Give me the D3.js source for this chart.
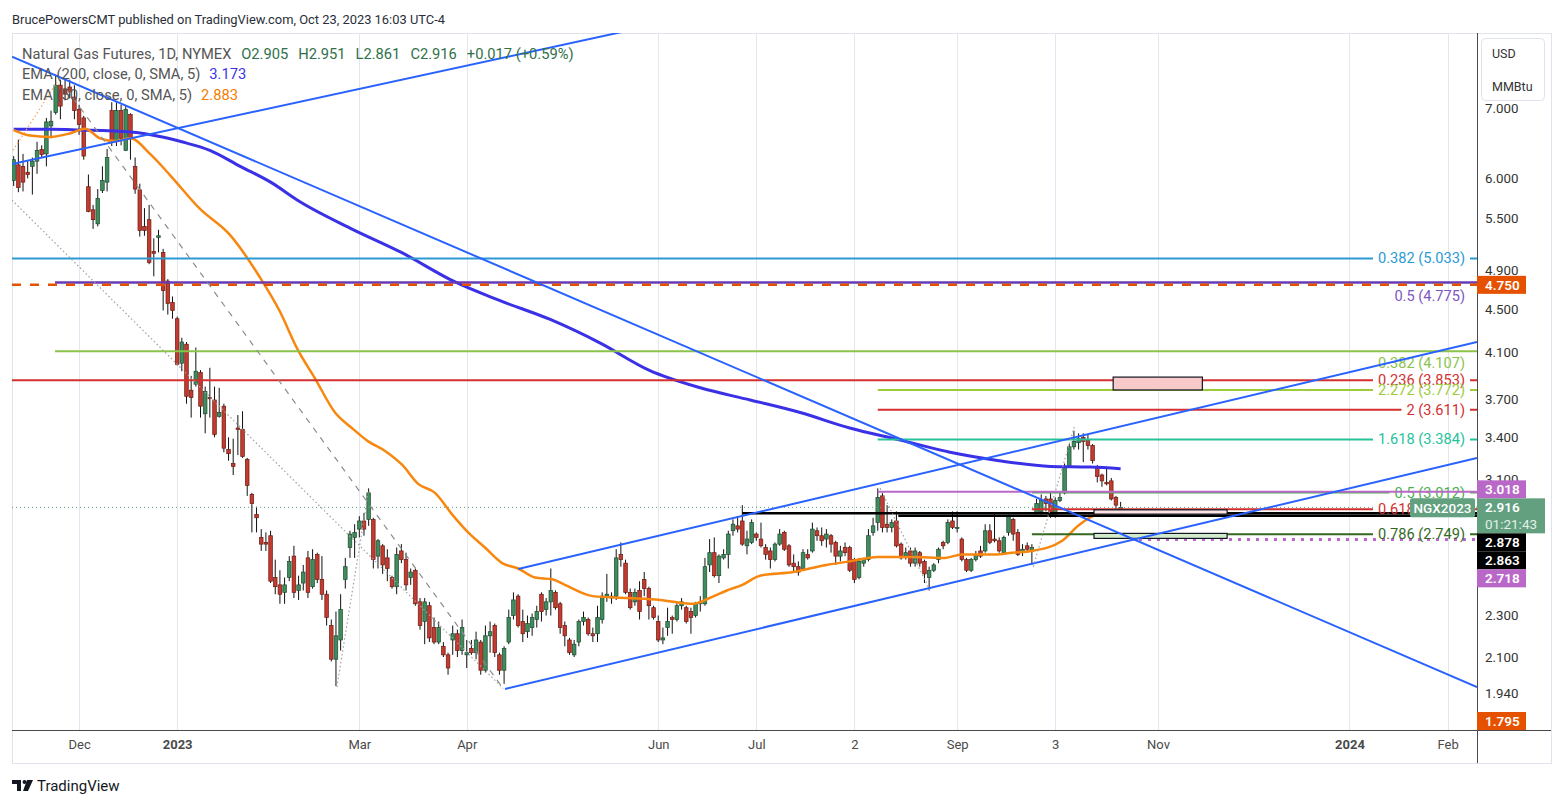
<!DOCTYPE html>
<html>
<head>
<meta charset="utf-8">
<script src="https://cdn.jsdelivr.net/npm/d3@7/dist/d3.min.js"></script>
<style>
html,body{margin:0;padding:0;background:#fff;}
svg{display:block;}
text{font-family:Roboto,"Liberation Sans",Arial,sans-serif;}
</style>
</head>
<body>
<svg id="chart" width="1564" height="807"></svg>
<script>
// ================= DATA =================
// daily bars, index 1 .. 238 (Nov 2022 -> Oct 23 2023)
const firstBar = 1;
const opens = [
5.97,6.18,6.16,6.08,6.16,6.23,6.39,6.33,6.73,6.93,
7.36,7.30,7.33,7.17,6.98,6.85,5.89,5.60,5.43,5.84,
5.95,6.96,6.52,6.96,6.38,6.90,6.16,5.85,5.40,5.48,
5.11,5.27,5.10,4.79,4.57,4.41,4.00,4.17,3.77,3.82,
3.92,3.58,3.71,3.69,3.56,3.64,3.31,3.21,3.47,3.46,
3.24,3.00,2.87,2.73,2.70,2.74,2.50,2.46,2.42,2.50,
2.62,2.43,2.47,2.61,2.45,2.63,2.49,2.41,2.25,2.09,
2.18,2.49,2.67,2.73,2.78,2.83,2.84,2.84,2.62,2.68,
2.61,2.50,2.45,2.65,2.60,2.50,2.54,2.37,2.27,2.35,
2.24,2.17,2.15,2.11,2.18,2.21,2.13,2.11,2.14,2.12,
2.17,2.04,2.20,2.25,2.11,2.04,2.17,2.30,2.40,2.27,
2.22,2.24,2.28,2.41,2.33,2.37,2.42,2.36,2.25,2.18,
2.11,2.17,2.27,2.28,2.21,2.21,2.28,2.40,2.39,2.40,
2.63,2.58,2.42,2.37,2.43,2.49,2.44,2.34,2.27,2.18,
2.24,2.29,2.28,2.35,2.34,2.32,2.30,2.36,2.36,2.57,
2.64,2.51,2.61,2.63,2.77,2.80,2.83,2.68,2.70,2.75,
2.72,2.67,2.65,2.60,2.69,2.76,2.68,2.58,2.56,2.55,
2.63,2.65,2.77,2.74,2.72,2.74,2.70,2.62,2.67,2.67,
2.60,2.50,2.58,2.60,2.76,2.82,2.99,2.81,2.79,2.83,
2.69,2.62,2.65,2.58,2.64,2.59,2.50,2.54,2.60,2.70,
2.70,2.83,2.79,2.72,2.60,2.54,2.60,2.65,2.65,2.77,
2.72,2.71,2.64,2.76,2.84,2.76,2.64,2.68,2.65,2.88,
2.89,2.97,2.97,2.86,2.96,3.01,3.19,3.33,3.36,3.40,
3.38,3.34,3.19,3.13,3.08,3.09,2.98,2.905];
const highs = [
6.30,6.53,6.33,6.23,6.28,6.50,6.45,6.85,6.96,7.53,
7.45,7.45,7.45,7.36,7.05,6.88,6.05,5.66,5.86,6.16,
6.40,7.09,7.09,7.05,7.03,6.92,6.28,5.93,5.62,5.66,
5.26,5.36,5.14,4.81,4.63,4.43,4.23,4.19,3.89,4.14,
3.94,3.80,3.96,3.80,3.79,3.66,3.40,3.39,3.57,3.60,
3.25,3.01,2.92,2.78,2.76,2.77,2.60,2.54,2.50,2.62,
2.68,2.51,2.57,2.65,2.66,2.64,2.62,2.43,2.28,2.32,
2.41,2.61,2.77,2.81,2.86,2.88,3.04,2.85,2.72,2.69,
2.66,2.51,2.67,2.69,2.64,2.55,2.55,2.39,2.39,2.37,
2.29,2.27,2.17,2.12,2.25,2.23,2.28,2.18,2.18,2.22,
2.18,2.25,2.27,2.26,2.12,2.15,2.33,2.42,2.41,2.33,
2.30,2.31,2.35,2.42,2.39,2.55,2.43,2.37,2.27,2.19,
2.18,2.28,2.32,2.29,2.24,2.35,2.42,2.52,2.42,2.66,
2.70,2.60,2.44,2.44,2.48,2.53,2.45,2.35,2.30,2.24,
2.34,2.30,2.37,2.39,2.35,2.34,2.37,2.40,2.61,2.72,
2.73,2.63,2.66,2.77,2.84,2.86,2.93,2.77,2.84,2.76,
2.82,2.69,2.67,2.70,2.78,2.77,2.69,2.63,2.59,2.66,
2.66,2.82,2.79,2.79,2.78,2.75,2.71,2.68,2.70,2.68,
2.61,2.61,2.61,2.78,2.85,3.04,3.01,2.93,2.84,2.89,
2.70,2.67,2.67,2.67,2.65,2.60,2.56,2.58,2.67,2.71,
2.84,2.89,2.89,2.73,2.61,2.61,2.65,2.68,2.81,2.81,
2.88,2.73,2.74,2.87,2.85,2.78,2.69,2.70,2.69,2.97,
3.00,2.99,3.01,2.98,3.01,3.21,3.35,3.45,3.43,3.43,
3.42,3.35,3.20,3.14,3.18,3.11,2.99,2.951];
const lows = [
5.90,5.82,5.83,6.00,5.79,6.06,6.28,6.16,6.55,6.90,
6.83,7.12,7.15,6.83,6.60,6.25,5.57,5.37,5.40,5.81,
5.83,6.44,6.44,6.45,6.37,6.25,5.80,5.28,5.29,4.97,
4.84,5.10,4.49,4.45,4.41,3.98,3.93,3.66,3.55,3.80,
3.55,3.43,3.55,3.40,3.55,3.29,3.23,3.13,3.27,3.25,
2.99,2.76,2.76,2.65,2.65,2.47,2.41,2.36,2.36,2.48,
2.39,2.38,2.43,2.39,2.44,2.47,2.38,2.25,2.08,1.97,
2.13,2.44,2.61,2.61,2.73,2.74,2.80,2.55,2.55,2.52,
2.48,2.44,2.41,2.58,2.43,2.46,2.35,2.23,2.16,2.17,
2.16,2.16,2.10,2.02,2.11,2.10,2.11,2.05,2.11,2.09,
2.02,2.03,2.12,2.10,2.02,1.98,2.16,2.28,2.24,2.17,
2.19,2.20,2.24,2.27,2.30,2.30,2.33,2.21,2.15,2.11,
2.10,2.15,2.25,2.20,2.17,2.17,2.26,2.37,2.36,2.38,
2.56,2.41,2.33,2.35,2.28,2.40,2.28,2.28,2.17,2.16,
2.20,2.21,2.27,2.33,2.26,2.21,2.29,2.32,2.35,2.53,
2.50,2.47,2.60,2.55,2.74,2.76,2.68,2.63,2.69,2.71,
2.67,2.60,2.55,2.59,2.68,2.65,2.56,2.53,2.51,2.55,
2.60,2.64,2.71,2.68,2.67,2.64,2.57,2.59,2.62,2.53,
2.47,2.49,2.56,2.59,2.74,2.77,2.76,2.76,2.76,2.67,
2.60,2.60,2.56,2.56,2.56,2.47,2.43,2.53,2.58,2.66,
2.69,2.78,2.76,2.59,2.53,2.53,2.59,2.61,2.64,2.69,
2.70,2.64,2.63,2.74,2.71,2.62,2.62,2.64,2.57,2.87,
2.87,2.89,2.85,2.85,2.95,3.00,3.18,3.31,3.31,3.22,
3.31,3.21,3.08,3.05,3.06,2.96,2.89,2.861];
const closes = [
6.25,5.88,5.95,6.05,6.23,6.38,6.32,6.79,6.80,7.36,
7.03,7.22,7.25,6.96,6.75,6.30,5.58,5.48,5.74,5.97,
6.28,6.50,6.96,6.55,6.98,6.55,5.86,5.35,5.35,4.99,
5.09,5.29,4.69,4.56,4.49,3.99,4.19,3.72,3.71,3.93,
3.64,3.76,3.70,3.42,3.59,3.32,3.28,3.19,3.46,3.26,
3.06,2.94,2.85,2.69,2.69,2.48,2.45,2.41,2.46,2.59,
2.42,2.46,2.53,2.42,2.60,2.49,2.41,2.29,2.09,2.20,
2.33,2.56,2.75,2.76,2.83,2.78,3.01,2.60,2.71,2.57,
2.55,2.45,2.63,2.60,2.46,2.53,2.36,2.25,2.37,2.19,
2.17,2.24,2.11,2.05,2.21,2.13,2.24,2.12,2.12,2.18,
2.04,2.20,2.22,2.12,2.04,2.14,2.29,2.38,2.25,2.21,
2.26,2.29,2.32,2.32,2.37,2.43,2.34,2.24,2.20,2.12,
2.16,2.27,2.29,2.21,2.20,2.29,2.40,2.41,2.40,2.61,
2.60,2.42,2.34,2.42,2.32,2.44,2.35,2.29,2.18,2.19,
2.27,2.28,2.35,2.37,2.27,2.29,2.36,2.37,2.56,2.64,
2.51,2.62,2.63,2.75,2.81,2.78,2.69,2.72,2.82,2.73,
2.68,2.63,2.60,2.69,2.75,2.66,2.57,2.56,2.53,2.64,
2.61,2.78,2.74,2.71,2.75,2.69,2.62,2.65,2.64,2.54,
2.49,2.59,2.60,2.74,2.80,2.98,2.79,2.79,2.82,2.68,
2.61,2.64,2.58,2.65,2.58,2.52,2.54,2.57,2.66,2.68,
2.82,2.79,2.79,2.60,2.54,2.60,2.63,2.62,2.77,2.70,
2.71,2.65,2.73,2.86,2.75,2.63,2.66,2.66,2.67,2.94,
2.96,2.94,2.86,2.96,2.98,3.19,3.33,3.37,3.39,3.37,
3.34,3.23,3.12,3.09,3.07,2.97,2.93,2.916];

// EMA: [bar, value]
const ema200 = [[1,6.68],[9,6.68],[15,6.67],[26,6.64],[32,6.58],[37,6.50],[43,6.38],[49.5,6.16],[56,5.95],[62.3,5.70],[73,5.38],[84,5.10],[95.5,4.78],[105,4.59],[116,4.40],[126.6,4.18],[137,3.94],[148,3.79],[158.7,3.69],[169.4,3.59],[180,3.47],[190.8,3.38],[201.5,3.29],[212,3.23],[223,3.19],[231.5,3.185],[238,3.173]];
const ema50 = [[1,6.67],[4.5,6.59],[8.8,6.57],[13,6.62],[16.3,6.69],[19.5,6.55],[22.7,6.51],[26,6.55],[30.2,6.33],[34.5,6.04],[40.9,5.61],[47.3,5.30],[53.7,4.83],[58,4.48],[61.7,4.13],[65.5,3.87],[69.8,3.59],[73.4,3.47],[76.9,3.37],[80.5,3.30],[84.2,3.20],[87.6,3.07],[91.2,3.01],[94.9,2.87],[98.3,2.76],[101.9,2.67],[105.6,2.58],[109,2.55],[112.6,2.50],[116.3,2.49],[119,2.46],[125,2.40],[132.3,2.39],[139.4,2.38],[146.5,2.36],[150,2.39],[153.7,2.43],[157,2.46],[160.8,2.51],[167.9,2.53],[175,2.57],[180,2.59],[186,2.615],[193.4,2.615],[200.4,2.61],[204,2.63],[211,2.63],[214.8,2.64],[219,2.65],[225.5,2.71],[228.9,2.80],[232,2.86],[234.7,2.88],[238,2.883]];

// x axis ticks (bar index) and labels
const tickBars = [15,36,75,98,139,160,181,203,224,246,287,308];
const tickLabels = ["Dec","2023","Mar","Apr","Jun","Jul","2","Sep","3","Nov","2024","Feb"];
const boldTicks = ["2023","2024"];
// price axis ticks
const priceTicks = [7,6,5.5,4.9,4.5,4.1,3.7,3.4,3.1,2.3,2.1,1.94];

// Fibonacci levels
const levelNames  = ["0.382","0.5","0.382","0.236","2.272","2","1.618","0.5","0.618","0.786"];
const levelPrices = [5.033,4.775,4.107,3.853,3.772,3.611,3.384,3.012,2.903,2.749];
const levelStart  = [0.64,9.85,9.85,0.64,186,186,186,219,219,219];

// other horizontal lines
const hlinePrices = [4.750,3.018,2.878,2.863,2.718,2.916];
const hlineStart  = [0.64,186,157,190.4,240,0.64];

// rectangles: [bar0,bar1] x [price0,price1]
const zoneBars   = [[236.4,255.5],[232.3,260.8],[232.3,260.8]];
const zonePrices = [[3.88,3.772],[2.900,2.873],[2.754,2.724]];

// trend lines [[bar,price],[bar,price]]
const trendLines = [
  [[0.64,6.19],[132.3,8.29]],
  [[0.64,7.835],[314.3,1.966]],
  [[106.2,1.958],[314.3,3.249]],
  [[109,2.547],[314.3,4.19]]
];
const dashedGuides = [[[12.2,7.31],[105.8,1.96]]];
const dottedGuides = [
  [[0.64,5.72],[105.8,1.96]],
  [[70.2,1.966],[77,3.03]],
  [[186.5,3.04],[197.2,2.43]],
  [[219.3,2.56],[228.1,3.48]]
];
const orangeGuide = [[0.86,6.38],[10.3,7.41]];

// legend values
const ohlcText = ["O2.905","H2.951","L2.861","C2.916","+0.017 (+0.59%)"];
const ema200Last = "3.173", ema50Last = "2.883";

// axis price labels
const countdown = "01:21:43";
const symbolTag = "NGX2023";

// ================= DRAW =================
const W = 1564, H = 807;
const L = 12, R = 1477, T = 33, B = 730, PR = 1551, PB = 763;
const x = d3.scaleLinear().domain([0.64, 314.3]).range([L, R]);
const y = d3.scaleLog().domain([1.7894, 8.252]).range([B, T]);

const svg = d3.select("#chart");
svg.append("rect").attr("width", W).attr("height", H).attr("fill", "#fff");

svg.append("text").attr("x", 12).attr("y", 24).attr("font-size", 12.9)
  .attr("fill", "#2a2e39").text("BrucePowersCMT published on TradingView.com, Oct 23, 2023 16:03 UTC-4");

// panel
svg.append("rect").attr("x", L + 0.5).attr("y", T + 0.5).attr("width", PR - L).attr("height", PB - T)
  .attr("fill", "none").attr("stroke", "#e0e3eb");

svg.append("defs").append("clipPath").attr("id", "plotClip")
  .append("rect").attr("x", L).attr("y", T).attr("width", R - L).attr("height", B - T);

const plot = svg.append("g").attr("clip-path", "url(#plotClip)");

// grid
plot.selectAll(".vg").data(tickBars).join("line")
  .attr("x1", d => Math.round(x(d)) + 0.5).attr("x2", d => Math.round(x(d)) + 0.5)
  .attr("y1", T).attr("y2", B).attr("stroke", "#e3e6ee").attr("stroke-width", 1);

// legend
const leg = svg.append("g").attr("font-size", 14.7);
const l1 = leg.append("text").attr("x", 22).attr("y", 59);
l1.append("tspan").attr("fill", "#555").text("Natural Gas Futures, 1D, NYMEX");
ohlcText.forEach(t => l1.append("tspan").attr("dx", 10).attr("fill", "#2f7048").text(t));
const l2 = leg.append("text").attr("x", 22).attr("y", 79);
l2.append("tspan").attr("fill", "#555").text("EMA (200, close, 0, SMA, 5)");
l2.append("tspan").attr("dx", 9).attr("fill", "#3b35e6").text(ema200Last);
const l3 = leg.append("text").attr("x", 22).attr("y", 100);
l3.append("tspan").attr("fill", "#555").text("EMA (50, close, 0, SMA, 5)");
l3.append("tspan").attr("dx", 9).attr("fill", "#f57c00").text(ema50Last);

// candles
const bars = opens.map((o, k) => ({i: firstBar + k, o, h: highs[k], l: lows[k], c: closes[k]}));
const cg = plot.append("g");
cg.selectAll("line").data(bars).join("line")
  .attr("x1", d => x(d.i)).attr("x2", d => x(d.i))
  .attr("y1", d => y(d.h)).attr("y2", d => y(d.l))
  .attr("stroke", "#111").attr("stroke-width", 1);
cg.selectAll("rect").data(bars).join("rect")
  .attr("x", d => x(d.i) - 1.8).attr("width", 3.6)
  .attr("y", d => y(Math.max(d.o, d.c)))
  .attr("height", d => Math.max(1, Math.abs(y(d.o) - y(d.c))))
  .attr("fill", d => d.c >= d.o ? "#3f8c5d" : "#c33a2e")
  .attr("stroke", d => d.c >= d.o ? "#1d4a30" : "#6a1b13")
  .attr("stroke-width", 0.7);

// EMAs
const emaLine = d3.line().x(d => x(d[0])).y(d => y(d[1])).curve(d3.curveMonotoneX);
plot.append("path").attr("d", emaLine(ema200)).attr("fill", "none").attr("stroke", "#3a30e6").attr("stroke-width", 3);
plot.append("path").attr("d", emaLine(ema50)).attr("fill", "none").attr("stroke", "#f7870f").attr("stroke-width", 2.5);

// level lines
const levelColors = ["#2a9ad4","#673ab7","#8bc34a","#d32f2f","#9ccc3c","#d32f2f","#26c29a","#4caf50","#d32f2f","#33691e"];
const levelTextColors = ["#2a9ad4","#7e57c2","#8bc34a","#d32f2f","#9ccc3c","#d32f2f","#26c29a","#4caf50","#d32f2f","#33691e"];
const levelLabelOffset = [0,14,12,0,0,0,0,0,0,0];
const lvG = plot.append("g");
levelPrices.forEach((p, k) => {
  const yy = y(p);
  lvG.append("line").attr("x1", x(levelStart[k])).attr("x2", R).attr("y1", yy).attr("y2", yy)
    .attr("stroke", levelColors[k]).attr("stroke-width", k === 1 ? 2.5 : 2);
});
// orange dashed
lvG.append("line").attr("x1", x(hlineStart[0])).attr("x2", R).attr("y1", y(hlinePrices[0])).attr("y2", y(hlinePrices[0]))
  .attr("stroke", "#e65100").attr("stroke-width", 2.5).attr("stroke-dasharray", "9,9");
// last price dotted
lvG.append("line").attr("x1", x(hlineStart[5])).attr("x2", R).attr("y1", y(hlinePrices[5])).attr("y2", y(hlinePrices[5]))
  .attr("stroke", "#5f9e7c").attr("stroke-width", 1).attr("stroke-dasharray", "1,3");
// black lines
[2,3].forEach(k => {
  lvG.append("line").attr("x1", x(hlineStart[k])).attr("x2", R).attr("y1", y(hlinePrices[k])).attr("y2", y(hlinePrices[k]))
    .attr("stroke", "#000").attr("stroke-width", 2.5);
});
// orchid dotted
lvG.append("line").attr("x1", x(hlineStart[4])).attr("x2", R).attr("y1", y(hlinePrices[4])).attr("y2", y(hlinePrices[4]))
  .attr("stroke", "#ba68c8").attr("stroke-width", 3).attr("stroke-dasharray", "3,6");

// labels
const labG = plot.append("g").attr("font-size", 14.6);
levelPrices.forEach((p, k) => {
  const yy = y(p) + levelLabelOffset[k];
  const t = labG.append("text").attr("x", 1465).attr("y", yy).attr("text-anchor", "end")
    .attr("dominant-baseline", "central").attr("fill", levelTextColors[k])
    .text(`${levelNames[k]} (${p.toFixed(3)})`);
  if (levelLabelOffset[k] === 0) {
    const bb = t.node().getBBox();
    labG.insert("rect", "text").attr("x", bb.x - 5).attr("y", y(p) - 2.5).attr("width", bb.width + 10).attr("height", 5).attr("fill", "#fff");
  }
});

// orchid 3.018 line
plot.append("line").attr("x1", x(hlineStart[1])).attr("x2", R).attr("y1", y(hlinePrices[1])).attr("y2", y(hlinePrices[1]))
  .attr("stroke", "#ba68c8").attr("stroke-width", 2);

// zones
const zoneFills = ["#f8c9c9","#fde3e3","#d3ebcd"];
zoneBars.forEach((b, k) => {
  plot.append("rect").attr("x", x(b[0])).attr("width", x(b[1]) - x(b[0]))
    .attr("y", y(zonePrices[k][0])).attr("height", y(zonePrices[k][1]) - y(zonePrices[k][0]))
    .attr("fill", zoneFills[k]).attr("stroke", "#131722").attr("stroke-width", 1.2);
});

// trend lines & guides
const seg = d3.line().x(d => x(d[0])).y(d => y(d[1]));
trendLines.forEach(tl => plot.append("path").attr("d", seg(tl)).attr("stroke", "#2962ff").attr("stroke-width", 2).attr("fill", "none"));
dashedGuides.forEach(g => plot.append("path").attr("d", seg(g)).attr("stroke", "#8c8c8c").attr("stroke-width", 1.2).attr("stroke-dasharray", "6,6").attr("fill", "none"));
dottedGuides.forEach(g => plot.append("path").attr("d", seg(g)).attr("stroke", "#a0a0a0").attr("stroke-width", 1.2).attr("stroke-dasharray", "1.5,2.5").attr("fill", "none"));
plot.append("path").attr("d", seg(orangeGuide)).attr("stroke", "#f5a35a").attr("stroke-width", 1.2).attr("stroke-dasharray", "1.5,2.5").attr("fill", "none");

// axes lines
svg.append("line").attr("x1", L).attr("x2", PR).attr("y1", B + 0.5).attr("y2", B + 0.5).attr("stroke", "#4a4a4a");
svg.append("line").attr("x1", R + 0.5).attr("x2", R + 0.5).attr("y1", T).attr("y2", PB).attr("stroke", "#4a4a4a");

// x axis
const xa = svg.append("g").attr("transform", `translate(0,${B})`)
  .call(d3.axisBottom(x).tickValues(tickBars).tickFormat((d, k) => tickLabels[k]).tickSize(0).tickPadding(10));
xa.select(".domain").remove();
xa.selectAll("text").attr("font-size", 13).attr("fill", "#4a4a4a")
  .attr("font-family", "Roboto, 'Liberation Sans', sans-serif")
  .attr("font-weight", (d, k) => boldTicks.includes(tickLabels[k]) ? "bold" : "normal");

// y axis
const ya = svg.append("g").attr("transform", `translate(${R},0)`)
  .call(d3.axisRight(y).tickValues(priceTicks).tickFormat(d3.format(".3f")).tickSize(0).tickPadding(8));
ya.select(".domain").remove();
ya.selectAll("text").attr("font-size", 13.3).attr("fill", "#333").attr("font-family", "Roboto, 'Liberation Sans', sans-serif");

// unit box
svg.append("rect").attr("x", 1481.5).attr("y", 38.5).attr("width", 63).attr("height", 62).attr("rx", 4)
  .attr("fill", "#fff").attr("stroke", "#e0e3eb");
svg.append("text").attr("x", 1492).attr("y", 58).attr("font-size", 12.5).attr("fill", "#333").text("USD");
svg.append("text").attr("x", 1492).attr("y", 91).attr("font-size", 12.5).attr("fill", "#333").text("MMBtu");

// price boxes
const boxPrices = [4.750, 3.018, 2.916, 2.878, 2.863, 2.718, 1.795];
const boxFills  = ["#e65100","#ba68c8","#62a07f","#000","#000","#ba68c8","#e65100"];
const boxH = [18,18,35,18,18,18,18];
const anchorIdx = 2;
const tops = boxPrices.map(p => y(p) - 9);
for (let k = anchorIdx - 1; k >= 0; k--) tops[k] = Math.min(tops[k], tops[k + 1] - boxH[k]);
for (let k = anchorIdx + 1; k < boxPrices.length; k++) tops[k] = Math.max(tops[k], tops[k - 1] + boxH[k - 1]);
tops[boxPrices.length - 1] = Math.min(tops[boxPrices.length - 1], B - boxH[boxPrices.length - 1]);
boxPrices.forEach((p, k) => {
  const w = k === anchorIdx ? 68 : 49;
  svg.append("rect").attr("x", R).attr("y", tops[k]).attr("width", w).attr("height", boxH[k]).attr("fill", boxFills[k]);
  svg.append("text").attr("x", R + 8).attr("y", tops[k] + 9).attr("dominant-baseline", "central")
    .attr("font-size", 13.5).attr("font-weight", 600).attr("fill", "#fff").text(p.toFixed(3));
});
svg.append("text").attr("x", R + 8).attr("y", tops[anchorIdx] + 26).attr("dominant-baseline", "central")
  .attr("font-size", 13.5).attr("fill", "#e2f1e8").text(countdown);
svg.append("rect").attr("x", 1410).attr("y", tops[anchorIdx]).attr("width", 65).attr("height", 19).attr("rx", 2).attr("fill", "#62a07f");
svg.append("text").attr("x", 1442.5).attr("y", tops[anchorIdx] + 9.5).attr("text-anchor", "middle").attr("dominant-baseline", "central")
  .attr("font-size", 13.5).attr("font-weight", 500).attr("fill", "#fff").text(symbolTag);

// logo
const lg = svg.append("g").attr("fill", "#131722");
lg.append("path").attr("d", "M12,780 h9 v11 h-4 v-7 h-5 z");
lg.append("circle").attr("cx", 24.5).attr("cy", 782).attr("r", 2);
lg.append("path").attr("d", "M27,780 h6 l-5,11 h-5 z");
svg.append("text").attr("x", 37).attr("y", 791).attr("font-size", 15).attr("fill", "#131722").text("TradingView");
</script>
</body>
</html>
